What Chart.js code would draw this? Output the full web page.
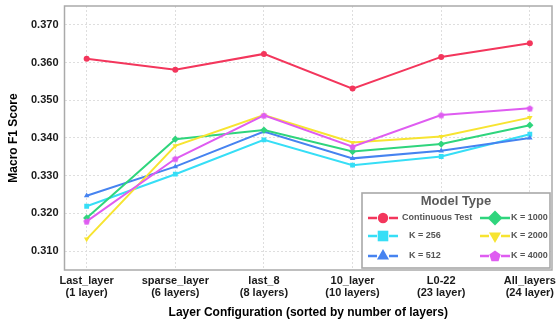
<!DOCTYPE html>
<html>
<head>
<meta charset="utf-8">
<script src="https://cdn.jsdelivr.net/npm/chart.js@4/dist/chart.umd.min.js"></script>
<style>
  html, body { margin: 0; padding: 0; background: #fff; }
  #wrap { width: 556px; height: 328px; position: relative; }
</style>
</head>
<body>
<div id="wrap"><canvas id="chart"></canvas></div>
<script>
const categories = [
    ['Last_layer', '(1 layer)'],
    ['sparse_layer', '(6 layers)'],
    ['last_8', '(8 layers)'],
    ['10_layer', '(10 layers)'],
    ['L0-22', '(23 layer)'],
    ['All_layers', '(24 layer)']
];
const yTicks = [0.31, 0.32, 0.33, 0.34, 0.35, 0.36, 0.37];

const seriesNames = ['Continuous Test', 'K = 256', 'K = 512', 'K = 1000', 'K = 2000', 'K = 4000'];
const continuousTest = [0.3610, 0.3581, 0.3623, 0.3531, 0.3615, 0.3651];
const k256  = [0.3219, 0.3304, 0.3395, 0.3328, 0.3351, 0.3410];
const k512  = [0.3247, 0.3324, 0.3417, 0.3346, 0.3366, 0.3400];
const k1000 = [0.3188, 0.3397, 0.3421, 0.3364, 0.3384, 0.3434];
const k2000 = [0.3132, 0.3379, 0.3461, 0.3388, 0.3404, 0.3454];
const k4000 = [0.3179, 0.3345, 0.3460, 0.3377, 0.3461, 0.3479];

const colors = ['#f3365c', '#36def6', '#4683f0', '#2fd57d', '#f7e431', '#df5cf1'];
const FONT = "'Liberation Sans', Arial, sans-serif";

// pentagon marker (not built into chart.js)
const makePentagon = function(r, color) {
    const c = document.createElement('canvas');
    c.width = c.height = Math.ceil(r * 2 + 2);
    const g = c.getContext('2d');
    const cx = c.width / 2, cy = c.height / 2 + 0.4;
    g.beginPath();
    for (let i = 0; i < 5; i++) {
        const a = -Math.PI / 2 + i * 2 * Math.PI / 5;
        g.lineTo(cx + r * Math.cos(a), cy + r * Math.sin(a));
    }
    g.closePath();
    g.fillStyle = color;
    g.fill();
    return c;
};
const pentSmall = makePentagon(3.4, colors[5]);
const pentBig = makePentagon(6, colors[5]);

const styles = [
    {pointStyle: 'circle', radius: 3, rotation: 0, legendRadius: 5.2},
    {pointStyle: 'rect', radius: 3.4, rotation: 0, legendRadius: 7.5},
    {pointStyle: 'triangle', radius: 3.2, rotation: 0, legendRadius: 7},
    {pointStyle: 'rectRot', radius: 3.6, rotation: 0, legendRadius: 7.5},
    {pointStyle: 'triangle', radius: 3.2, rotation: 180, legendRadius: 7},
    {pointStyle: pentSmall, radius: 3.4, rotation: 0, legendRadius: 6, legendStyle: pentBig}
];
const seriesData = [continuousTest, k256, k512, k1000, k2000, k4000];

const datasets = seriesNames.map(function(name, i) {
    return {
        label: name,
        data: seriesData[i].map(function(v, j) { return {x: j, y: v}; }),
        borderColor: colors[i],
        backgroundColor: colors[i],
        borderWidth: 2,
        pointStyle: styles[i].pointStyle,
        pointRadius: styles[i].radius,
        pointRotation: styles[i].rotation,
        pointBorderWidth: 0,
        tension: 0
    };
}).reverse();

// frame + legend box drawn inside plot area
const framePlugin = {
    id: 'frameAndLegend',
    afterDraw: function(chart) {
        const ctx = chart.ctx, a = chart.chartArea;
        ctx.save();
        ctx.setLineDash([]);
        ctx.strokeStyle = '#aaaaaa';
        ctx.lineWidth = 1.5;
        ctx.strokeRect(a.left, a.top, a.right - a.left, a.bottom - a.top);

        // legend
        const bx = a.right - 190, by = a.bottom - 77, bw = 188, bh = 75;
        ctx.fillStyle = '#ffffff';
        ctx.fillRect(bx, by, bw, bh);
        ctx.strokeStyle = '#a8a8a8';
        ctx.lineWidth = 1.6;
        ctx.strokeRect(bx, by, bw, bh);

        ctx.fillStyle = '#5a5a5a';
        ctx.font = 'bold 13px ' + FONT;
        ctx.textAlign = 'center';
        ctx.textBaseline = 'middle';
        ctx.fillText('Model Type', bx + 94, by + 8);

        ctx.font = 'bold 9px ' + FONT;
        ctx.textAlign = 'left';
        const rowsY = [by + 25, by + 43, by + 63];
        const colMarkX = [bx + 21, bx + 133];
        const colTextX = [[bx + 40, bx + 47, bx + 47], [bx + 149, bx + 149, bx + 149]];
        for (let i = 0; i < 6; i++) {
            const col = i < 3 ? 0 : 1, row = i % 3;
            const mx = colMarkX[col], my = rowsY[row];
            const gap = 6;
            ctx.setLineDash([]);
            ctx.lineCap = 'butt';
            ctx.strokeStyle = colors[i];
            ctx.lineWidth = 2.6;
            ctx.beginPath();
            ctx.moveTo(mx - 15, my);
            ctx.lineTo(mx - gap, my);
            ctx.moveTo(mx + gap, my);
            ctx.lineTo(mx + 15, my);
            ctx.stroke();
            ctx.fillStyle = colors[i];
            ctx.strokeStyle = '#ffffff';
            Chart.helpers.drawPoint(ctx, {
                pointStyle: styles[i].legendStyle || styles[i].pointStyle,
                radius: styles[i].legendRadius,
                rotation: styles[i].rotation,
                borderWidth: 0
            }, mx, my);
            ctx.fillStyle = '#555555';
            ctx.fillText(seriesNames[i], colTextX[col][row], my);
        }
        ctx.restore();
    }
};

new Chart(document.getElementById('chart'), {
    type: 'line',
    data: {datasets: datasets},
    options: {
        responsive: true,
        maintainAspectRatio: false,
        animation: false,
        layout: {padding: {left: 0, right: 4, top: 6, bottom: 0}},
        plugins: {legend: {display: false}, tooltip: {enabled: false}},
        scales: {
            x: {
                type: 'linear',
                min: -0.25,
                max: 5.25,
                afterBuildTicks: function(scale) {
                    scale.ticks = categories.map(function(c, i) { return {value: i}; });
                },
                afterFit: function(scale) {
                    scale.height = 58;
                    scale.paddingLeft = 0;
                    scale.paddingRight = 0;
                },
                grid: {color: '#dedede', drawTicks: false, tickLength: 0},
                border: {display: false, dash: [2, 2]},
                ticks: {
                    padding: 5,
                    maxRotation: 0,
                    color: '#1a1a1a',
                    font: {family: FONT, size: 11, weight: 'bold', lineHeight: 1.1},
                    callback: function(v) { return categories[v]; }
                },
                title: {
                    display: true,
                    text: 'Layer Configuration (sorted by number of layers)',
                    color: '#000',
                    padding: {top: 6, bottom: 8},
                    font: {family: FONT, size: 12, weight: 'bold'}
                }
            },
            y: {
                min: 0.305,
                max: 0.375,
                afterBuildTicks: function(scale) {
                    scale.ticks = yTicks.map(function(v) { return {value: v}; });
                },
                afterFit: function(scale) {
                    scale.width = 64.5;
                    scale.paddingTop = 0;
                    scale.paddingBottom = 0;
                },
                grid: {color: '#dedede', drawTicks: false, tickLength: 0},
                border: {display: false, dash: [2, 2]},
                ticks: {
                    padding: 6,
                    color: '#1a1a1a',
                    font: {family: FONT, size: 11, weight: 'bold'},
                    callback: function(v) { return v.toFixed(3); }
                },
                title: {
                    display: true,
                    text: 'Macro F1 Score',
                    color: '#000',
                    padding: {top: 6, bottom: 0},
                    font: {family: FONT, size: 12, weight: 'bold'}
                }
            }
        }
    },
    plugins: [framePlugin]
});
</script>
</body>
</html>
